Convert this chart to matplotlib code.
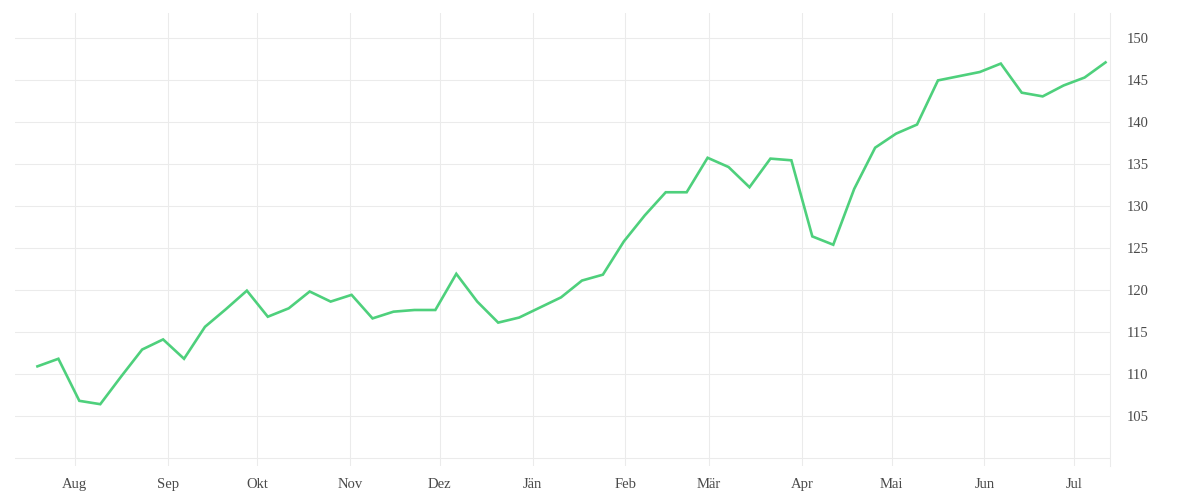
import numpy as np
import pandas as pd
import matplotlib
matplotlib.use("Agg")
import matplotlib.pyplot as plt
import matplotlib.dates as mdates

# weekly values, Jul 2020 - Jul 2021
start = "2020-07-19 12:00"
values = [110.9, 111.8, 106.8, 106.4, 109.7, 112.9, 114.1, 111.8, 115.6, 117.7,
          119.9, 116.8, 117.8, 119.8, 118.6, 119.4, 116.6, 117.4, 117.6, 117.6,
          121.9, 118.6, 116.1, 116.7, 117.9, 119.1, 121.1, 121.8, 125.75, 128.85,
          131.6, 131.6, 135.7, 134.6, 132.2, 135.6, 135.4, 126.35, 125.36, 132.0,
          136.9, 138.57, 139.65, 144.9, 145.4, 145.9, 146.9, 143.44, 143.0, 144.3,
          145.24, 147.04]
month_labels = ["Aug", "Sep", "Okt", "Nov", "Dez", "Jän", "Feb", "Mär", "Apr", "Mai", "Jun", "Jul"]
y_ticks = list(range(100, 151, 5))

dates = pd.date_range(start, periods=len(values), freq="7D")
month_starts = pd.date_range("2020-08-01", periods=12, freq="MS")

plt.rcParams['font.family'] = ['Liberation Serif', 'DejaVu Serif']

fig = plt.figure(figsize=(12, 5), dpi=100)
ax = fig.add_axes([0.0125, 0.068, 0.9125, 0.9066])

ax.plot(dates, values, color="#4ed07c", linewidth=1.9, solid_joinstyle="miter")

ax.set_xlim(pd.Timestamp("2020-07-12"), pd.Timestamp("2021-07-13"))
ax.set_ylim(99.05, 152.95)

ax.set_xticks(month_starts)
ax.set_xticklabels(month_labels, va="baseline")
ax.set_yticks(y_ticks)
ax.set_yticklabels([""] + [str(t) for t in y_ticks[1:]])
ax.yaxis.tick_right()

ax.grid(True, color="#ebebeb", linewidth=0.75)
ax.set_axisbelow(True)
for s in ["top", "left", "bottom"]:
    ax.spines[s].set_visible(False)
ax.spines["right"].set_color("#ebebeb")
ax.spines["right"].set_linewidth(0.75)

ax.tick_params(axis="both", length=0, labelsize=10.5, labelcolor="#4a4a4a")
ax.tick_params(axis="x", pad=16)
ax.tick_params(axis="y", pad=12)

fig.savefig("out.png", dpi=100)
